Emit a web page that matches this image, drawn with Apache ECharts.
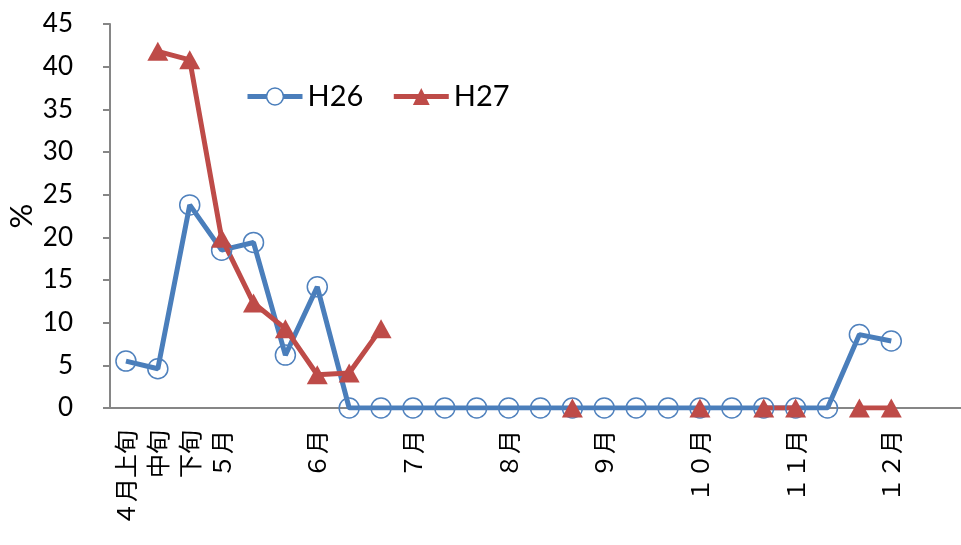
<!DOCTYPE html>
<html>
<head>
<meta charset="utf-8">
<script src="https://cdn.jsdelivr.net/npm/echarts@6/dist/echarts.min.js"></script>
<style>html,body{margin:0;padding:0;background:#fff;overflow:hidden;width:961px;height:545px;}#c{width:980px;height:545px;}</style>
</head>
<body>
<div id="c"></div>
<script>
const categories = [
  '4月上旬','4月中旬','4月下旬','5月上旬','5月中旬','5月下旬','6月上旬','6月中旬','6月下旬',
  '7月上旬','7月中旬','7月下旬','8月上旬','8月中旬','8月下旬','9月上旬','9月中旬','9月下旬',
  '10月上旬','10月中旬','10月下旬','11月上旬','11月中旬','11月下旬','12月上旬','12月中旬','12月下旬'
];
const tickLabels = [
  '４月上旬','中旬','下旬','５月','','','６月','','',
  '７月','','','８月','','','９月','','',
  '１０月','','','１１月','','','１２月','',''
];
const h26 = [5.5, 4.6, 23.8, 18.5, 19.4, 6.2, 14.2, 0, 0,
  0, 0, 0, 0, 0, 0, 0, 0, 0,
  0, 0, 0, 0, 0, 8.6, 7.85, null, null];
const h27 = [null, 41.8, 40.8, 19.9, 12.3, 9.3, 3.9, 4.1, 9.3,
  null, null, null, null, null, 0, null, null, null,
  0, null, 0, 0, null, 0, 0, null, null];
const yTicks = {min: 0, max: 45, interval: 5};

const blue = '#4A7EBB', red = '#BE4B48';
const chart = echarts.init(document.getElementById('c'));
chart.setOption({
  animation: false,
  backgroundColor: '#fff',
  grid: {left: 110, top: 24, width: 861, height: 384, containLabel: false, outerBoundsMode: 'none'},
  legend: {
    left: 240, top: 77,
    itemWidth: 55, itemHeight: 21, itemGap: 28,
    textStyle: {fontFamily: 'Lato', fontSize: 29, color: '#000'},
    data: [
      {name: 'H26', itemStyle: {color: '#fff', borderColor: blue, borderWidth: 1.5}, lineStyle: {width: 5}},
      {name: 'H27', lineStyle: {width: 5}}
    ]
  },
  xAxis: {
    type: 'category',
    data: categories,
    boundaryGap: true,
    axisLine: {lineStyle: {color: '#868686', width: 2}},
    axisTick: {show: false},
    axisLabel: {
      interval: 0, rotate: 90, margin: 22,
      fontFamily: 'Noto Sans CJK JP', fontSize: 24, color: '#000',
      formatter: (v, i) => tickLabels[i]
    },
    splitLine: {show: false}
  },
  yAxis: {
    type: 'value',
    min: yTicks.min, max: yTicks.max, interval: yTicks.interval,
    name: '%', nameLocation: 'middle', nameRotate: 90, nameGap: 73, nameMoveOverlap: false,
    nameTextStyle: {fontFamily: 'Lato', fontSize: 31, color: '#000'},
    axisLine: {show: true, lineStyle: {color: '#868686', width: 2}},
    axisTick: {show: true, length: 7, lineStyle: {color: '#868686', width: 2}},
    axisLabel: {margin: 37, fontFamily: 'Lato', fontSize: 26, color: '#000'},
    splitLine: {show: false}
  },
  series: [
    {
      name: 'H26', type: 'line', data: h26,
      symbol: 'circle', symbolSize: 20, showAllSymbol: true,
      lineStyle: {color: blue, width: 5},
      itemStyle: {color: 'rgba(255,255,255,0)', borderColor: '#4F81BD', borderWidth: 1.5}
    },
    {
      name: 'H27', type: 'line', data: h27,
      symbol: 'triangle', symbolSize: [21, 19], showAllSymbol: true,
      lineStyle: {color: red, width: 5},
      itemStyle: {color: red, borderWidth: 0}
    }
  ]
});
</script>
</body>
</html>
